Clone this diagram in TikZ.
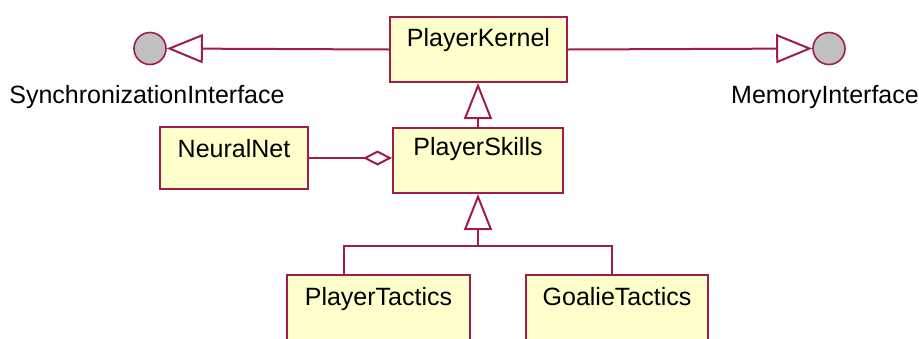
\documentclass[tikz,border=0pt]{standalone}
\usepackage{fontspec}
\setmainfont{Liberation Sans}
\usetikzlibrary{arrows.meta}
\definecolor{umlline}{RGB}{160,30,70}
\definecolor{umlfill}{RGB}{255,255,204}
\definecolor{ifacefill}{RGB}{192,192,192}

\begin{document}
\begin{tikzpicture}[x=1pt,y=-1pt,
  txt/.style={font=\fontsize{25}{30}\selectfont},
  cls/.style={txt, draw=umlline, fill=umlfill, line width=2pt, rectangle,
    inner sep=0pt, anchor=north west},
  iface/.style={draw=umlline, fill=ifacefill, line width=1.6pt, circle,
    minimum size=32pt, inner sep=0pt},
  ifacename/.style={txt, anchor=base, inner sep=0pt},
  link/.style={draw=umlline, line width=2pt, line join=miter},
  gen/.style={link, -{Triangle[open, fill=white, length=36pt, width=28pt]}},
  realize/.style={link, -{Triangle[open, fill=white, length=36pt, width=29pt]}},
  agg/.style={link, -{Diamond[open, fill=white, length=29pt, width=15pt]}}
]
\useasboundingbox (0,0) rectangle (919,338);
\clip (0,0) rectangle (919,338);

% classes
\node[cls, minimum width=177pt, text height=29pt, text depth=36pt] (PK) at (389,16) {PlayerKernel};
\node[cls, minimum width=170pt, text height=27pt, text depth=38pt] (PS) at (392,127) {PlayerSkills};
\node[cls, minimum width=148pt, text height=30pt, text depth=32pt] (NN) at (159,126) {NeuralNet};
\node[cls, minimum width=183pt, text height=30pt, text depth=40pt] (PT) at (286,274) {PlayerTactics};
\node[cls, minimum width=182pt, text height=30pt, text depth=40pt] (GT) at (525,274) {GoalieTactics};

% provided interfaces
\node[iface] (SI) at (150,48.5) {};
\node[iface] (MI) at (829,48.5) {};
\node[ifacename] (SIname) at (147,103) {SynchronizationInterface};
\node[ifacename] (MIname) at (825,103) {MemoryInterface};

% realizations
\draw[realize] (PK.west) -- (SI.east);
\draw[realize] (PK.east) -- (MI.west);

% generalizations
\draw[gen] (PS.north) -- (PS.north |- PK.south);
\coordinate (fork) at (PS.south |- 0,246);
\draw[link] ([xshift=-34.5pt]PT.north) |- (fork) -| ([xshift=-5pt]GT.north);
\draw[gen] (fork) -- (PS.south);

% aggregation
\draw[agg] (NN.east) -- (NN.east -| PS.west);
\end{tikzpicture}
\end{document}
